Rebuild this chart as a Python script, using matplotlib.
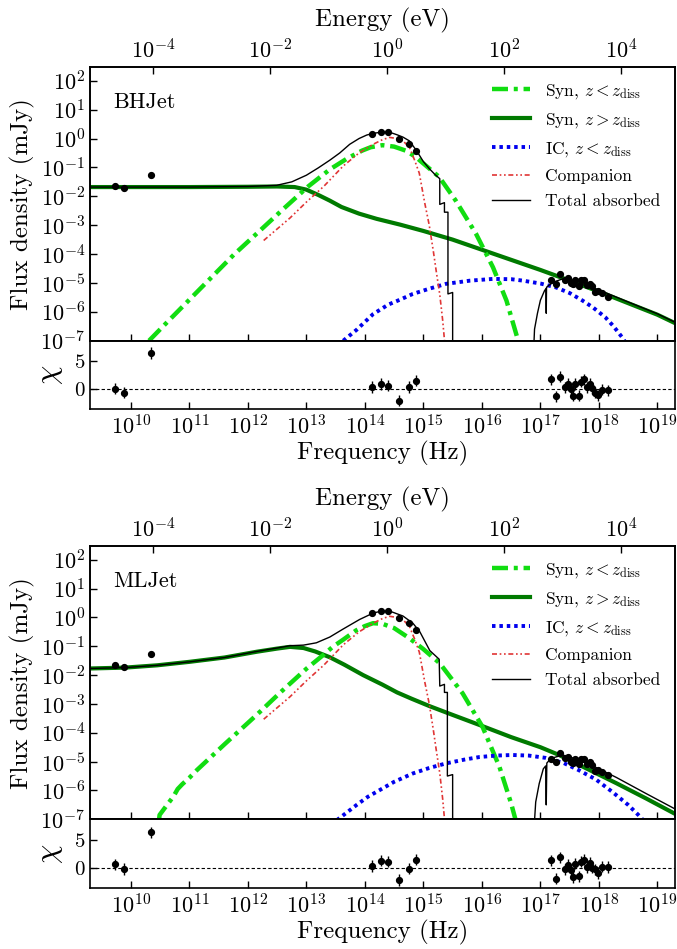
import numpy as np
import matplotlib
matplotlib.use('Agg')
import matplotlib.pyplot as plt
from matplotlib.ticker import NullLocator, FixedLocator

plt.rcParams.update({
    'font.family': 'serif', 'font.serif': ['cmr10'], 'mathtext.fontset': 'cm',
    'axes.formatter.use_mathtext': True, 'axes.unicode_minus': False,
    'xtick.direction': 'in', 'ytick.direction': 'in',
    'axes.linewidth': 1.2,
})

H_EV = 4.135667696e-15  # Planck constant (eV s)

# ---------------- data (log10 frequency in Hz, log10 flux in mJy) ----------------
data_lognu = [9.73, 9.88, 10.35,
              14.13, 14.27, 14.40, 14.59, 14.76, 14.87,
              17.18, 17.27, 17.34, 17.42, 17.47, 17.53, 17.56, 17.59, 17.66,
              17.69, 17.75, 17.79, 17.85, 17.89, 17.94, 17.98, 18.06, 18.16]
data_logF = [-1.66, -1.71, -1.27,
             0.15, 0.23, 0.23, -0.01, -0.20, -0.42,
             -4.90, -5.03, -4.69, -4.89, -4.83, -5.01, -5.05, -4.90, -5.09,
             -4.90, -4.90, -5.07, -5.03, -5.10, -5.33, -5.29, -5.36, -5.48]
data_ferr_frac = [0.05, 0.15, 0.05] + [0.03] * 6 + [0.06] * 18

resid_bhjet = [0.0, -0.68, 6.41,
               0.34, 0.85, 0.58, -2.10, 0.34, 1.43,
               1.70, -1.36, 2.16, 0.29, 0.85, -0.10, -1.24, 0.85, -1.24,
               1.31, 1.70, 0.29, 0.92, 0.07, -0.68, -1.12, -0.17, -0.27]
resid_mljet = [0.63, -0.17, 6.30,
               0.34, 1.26, 1.09, -2.14, -0.10, 1.48,
               1.36, -1.92, 1.87, -0.22, 0.51, -0.44, -1.63, 0.75, -1.46,
               1.09, 1.48, 0.17, 0.92, 0.07, -0.22, -0.90, 0.24, 0.17]

# ---------------- companion star (same in both panels) ----------------
comp_lognu = [12.27, 12.72, 13.0, 13.3, 13.63, 13.9, 14.14, 14.3, 14.42, 14.55,
              14.65, 14.76, 14.85, 14.93, 15.02, 15.1, 15.17, 15.22, 15.28, 15.33, 15.37]
comp_logF = [-3.53, -2.75, -2.2, -1.65, -0.95, -0.5, -0.2, -0.04, 0.04, 0.0,
             -0.08, -0.3, -0.75, -1.2, -2.2, -3.0, -3.9, -4.6, -5.4, -6.3, -7.2]

# ---------------- BHJet model components ----------------
bh_synin_lognu = [10.31, 10.6, 11.0, 11.4, 11.76, 12.2, 12.6, 13.03, 13.4, 13.69, 13.95,
                  14.1, 14.3, 14.5, 14.7, 14.87, 15.05, 15.27, 15.55, 15.9, 16.19, 16.42, 16.62]
bh_synin_logF = [-7.0, -6.40, -5.58, -4.76, -4.02, -3.2, -2.45, -1.66, -1.07, -0.70, -0.42,
                 -0.30, -0.23, -0.28, -0.42, -0.64, -0.95, -1.33, -2.14, -3.30, -4.46, -5.61, -7.0]

bh_synout_lognu = [9.3, 10, 11, 12, 12.5, 12.8, 13.0, 13.2, 13.4, 13.6, 13.9, 14.2, 14.6,
                   15.0, 15.5, 16.0, 16.5, 17.0, 17.5, 18.0, 18.5, 19.0, 19.31]
bh_synout_logF = [-1.68, -1.68, -1.68, -1.67, -1.66, -1.68, -1.77, -1.95, -2.15, -2.37, -2.6,
                  -2.78, -2.98, -3.2, -3.5, -3.85, -4.2, -4.55, -4.92, -5.3, -5.7, -6.1, -6.4]

bh_ic_lognu = [13.63, 13.86, 14.14, 14.4, 14.6, 14.82, 15.1, 15.39, 15.8, 16.19, 16.5, 16.7,
               17.0, 17.26, 17.5, 17.72, 17.9, 18.11, 18.25, 18.4, 18.45]
bh_ic_logF = [-7.0, -6.62, -6.08, -5.75, -5.58, -5.38, -5.2, -5.03, -4.92, -4.86, -4.87, -4.92,
              -5.02, -5.15, -5.35, -5.61, -5.85, -6.19, -6.5, -6.89, -7.05]

bh_tot_opt_lognu = [9.3, 11, 12, 12.49, 12.75, 13.0, 13.2, 13.4, 13.57, 13.74, 13.9, 14.03, 14.14,
                    14.25, 14.42, 14.55, 14.65, 14.76, 14.88, 15.0, 15.1, 15.2, 15.28, 15.28,
                    15.36, 15.36, 15.42, 15.42, 15.5, 15.5]
bh_tot_opt_logF = [-1.68, -1.68, -1.66, -1.62, -1.5, -1.27, -1.02, -0.75, -0.5, -0.2, 0.0, 0.12,
                   0.18, 0.21, 0.22, 0.13, 0.05, -0.08, -0.41, -0.8, -1.04, -1.25, -1.39, -2.28,
                   -2.22, -2.55, -2.55, -5.38, -5.33, -8.0]
bh_tot_x_lognu = [16.87, 16.9, 16.95, 17.0, 17.07, 17.095, 17.10, 17.105, 17.21, 17.38, 17.6,
                  18.0, 18.5, 19.0, 19.31]
bh_tot_x_logF = [-8.0, -6.6, -6.05, -5.6, -5.27, -5.2, -6.05, -5.15, -4.98, -4.86, -4.98,
                 -5.24, -5.66, -6.07, -6.37]

# ---------------- MLJet model components ----------------
ml_synin_lognu = [10.48, 10.49, 10.6, 10.73, 10.8, 10.88, 11.0, 11.13, 11.6, 12.15, 12.55, 13.0,
                  13.29, 13.45, 13.63, 13.85, 14.0, 14.14, 14.3, 14.5, 14.76, 15.0, 15.28,
                  15.67, 16.01, 16.3, 16.5, 16.58]
ml_synin_logF = [-7.05, -6.85, -6.55, -6.2, -5.95, -5.78, -5.56, -5.29, -4.4, -3.38, -2.61, -1.78,
                 -1.3, -1.02, -0.77, -0.45, -0.3, -0.2, -0.22, -0.37, -0.72, -1.1, -1.59,
                 -2.63, -3.79, -5.18, -6.45, -7.05]

ml_synout_lognu = [9.3, 9.9, 10.45, 11.0, 11.6, 12.15, 12.5, 12.72, 12.95, 13.15, 13.4, 13.65,
                   13.97, 14.3, 14.55, 14.8, 15.11, 15.5, 15.96, 16.5, 17.0, 17.32, 17.8, 18.3,
                   18.8, 19.31]
ml_synout_logF = [-1.77, -1.74, -1.66, -1.54, -1.39, -1.19, -1.08, -1.02, -1.06, -1.18, -1.38,
                  -1.64, -2.0, -2.33, -2.6, -2.82, -3.08, -3.38, -3.73, -4.15, -4.5, -4.77,
                  -5.25, -5.75, -6.27, -6.82]

ml_ic_lognu = [13.52, 13.7, 13.86, 14.05, 14.25, 14.5, 14.82, 15.1, 15.39, 15.7, 15.96, 16.25,
               16.52, 16.8, 17.09, 17.4, 17.66, 17.95, 18.23, 18.5, 18.68, 18.78]
ml_ic_logF = [-7.03, -6.75, -6.5, -6.22, -5.99, -5.7, -5.41, -5.22, -5.06, -4.93, -4.84, -4.79,
              -4.77, -4.79, -4.87, -5.05, -5.30, -5.62, -6.05, -6.5, -6.86, -7.08]

ml_tot_opt_lognu = [9.3, 9.9, 10.45, 11.0, 11.6, 12.15, 12.5, 12.72, 12.95, 13.17, 13.4, 13.63,
                    13.91, 14.14, 14.28, 14.45, 14.65, 14.82, 14.94, 15.11, 15.27, 15.28, 15.36,
                    15.36, 15.41, 15.41, 15.5, 15.5]
ml_tot_opt_logF = [-1.77, -1.74, -1.66, -1.54, -1.39, -1.18, -1.06, -0.98, -0.96, -0.88, -0.68,
                   -0.4, -0.07, 0.15, 0.22, 0.2, 0.05, -0.2, -0.5, -1.15, -1.45, -2.38, -2.32,
                   -2.6, -2.6, -5.5, -5.45, -8.0]
ml_tot_x_lognu = [16.87, 16.92, 16.98, 17.05, 17.09, 17.10, 17.11, 17.18, 17.38, 17.6, 17.9,
                  18.3, 18.8, 19.31]
ml_tot_x_logF = [-8.0, -6.4, -5.76, -5.25, -5.15, -6.5, -5.05, -4.89, -4.77, -4.9, -5.15,
                 -5.55, -6.1, -6.65]

panels = [
    dict(name='BHJet', synin=(bh_synin_lognu, bh_synin_logF), synout=(bh_synout_lognu, bh_synout_logF),
         ic=(bh_ic_lognu, bh_ic_logF), tot=[(bh_tot_opt_lognu, bh_tot_opt_logF), (bh_tot_x_lognu, bh_tot_x_logF)],
         resid=resid_bhjet, top=67, bot=340.7, rbot=409),
    dict(name='MLJet', synin=(ml_synin_lognu, ml_synin_logF), synout=(ml_synout_lognu, ml_synout_logF),
         ic=(ml_ic_lognu, ml_ic_logF), tot=[(ml_tot_opt_lognu, ml_tot_opt_logF), (ml_tot_x_lognu, ml_tot_x_logF)],
         resid=resid_mljet, top=546, bot=819.3, rbot=888.3),
]

W, H = 677, 949
fig = plt.figure(figsize=(W / 100, H / 100), dpi=100)
L, R = 90, 675
XLIM = (2e9, 2e19)

def p(xy):
    return 10 ** np.asarray(xy[0], float), 10 ** np.asarray(xy[1], float)

nu = 10 ** np.array(data_lognu)
F = 10 ** np.array(data_logF)
Ferr = F * np.array(data_ferr_frac)

for pn in panels:
    ax = fig.add_axes([L / W, 1 - pn['bot'] / H, (R - L) / W, (pn['bot'] - pn['top']) / H])
    axr = fig.add_axes([L / W, 1 - pn['rbot'] / H, (R - L) / W, (pn['rbot'] - pn['bot']) / H], sharex=ax)

    ax.plot(*p(pn['synin']), color='#11dd11', lw=3.2, ls=(0, (3.6, 1.3, 0.9, 1.3)),
            dash_capstyle='butt', label=r'Syn, $z<z_{\rm diss}$', zorder=3)
    ax.plot(*p(pn['synout']), color='#007a00', lw=3.0, label=r'Syn, $z>z_{\rm diss}$', zorder=2)
    ax.plot(*p(pn['ic']), color='#0000ee', lw=2.8, ls=(0, (0.9, 1.0)),
            label=r'IC, $z<z_{\rm diss}$', zorder=3)
    ax.plot(*p((comp_lognu, comp_logF)), color='#e03535', lw=1.2,
            ls=(0, (3, 1.6, 1, 1.6, 1, 1.6)), label='Companion', zorder=3)
    for i, seg in enumerate(pn['tot']):
        ax.plot(*p(seg), color='k', lw=1.0, label='Total absorbed' if i == 0 else None, zorder=4)
    ax.errorbar(nu, F, yerr=Ferr, fmt='o', color='k', ms=4.2, elinewidth=1.0, capsize=0, zorder=5)

    ax.set_xscale('log')
    ax.set_yscale('log')
    ax.set_xlim(*XLIM)
    ax.set_ylim(1e-7, 3e2)
    ax.yaxis.set_major_locator(FixedLocator([10.0 ** k for k in range(-7, 3)]))
    ax.yaxis.set_minor_locator(NullLocator())
    ax.xaxis.set_major_locator(FixedLocator([10.0 ** k for k in range(10, 20)]))
    ax.xaxis.set_minor_locator(NullLocator())
    ax.tick_params(axis='both', labelsize=16, length=5, width=1, top=False, right=False)
    ax.tick_params(axis='x', labelbottom=False)
    ax.set_ylabel('Flux density (mJy)', fontsize=18, labelpad=4)
    ax.text(0.04, 0.87, pn['name'], transform=ax.transAxes, fontsize=16, va='center')
    ax.legend(loc='upper right', frameon=False, fontsize=12.5, handlelength=2.2,
              labelspacing=0.58, borderaxespad=0.45, handletextpad=0.85, borderpad=0.4)

    top = ax.twiny()
    top.set_xscale('log')
    top.set_xlim(XLIM[0] * H_EV, XLIM[1] * H_EV)
    top.xaxis.set_major_locator(FixedLocator([1e-4, 1e-2, 1e0, 1e2, 1e4]))
    top.xaxis.set_minor_locator(NullLocator())
    top.tick_params(axis='x', labelsize=16, length=5, width=1, direction='in')
    top.set_xlabel('Energy (eV)', fontsize=18, labelpad=8)

    axr.errorbar(nu, pn['resid'], yerr=1.0, fmt='o', color='k', ms=4.2, elinewidth=1.0, capsize=0, zorder=5)
    axr.axhline(0, color='k', ls='--', lw=0.8, dashes=(3, 2))
    axr.set_ylim(-3.6, 8.6)
    axr.set_xlim(*XLIM)
    axr.yaxis.set_major_locator(FixedLocator([0, 5]))
    axr.tick_params(axis='both', labelsize=16, length=5, width=1, top=False, right=False)
    axr.tick_params(axis='y', labelsize=15)
    axr.set_ylabel(r'$\chi$', fontsize=22, labelpad=6)
    axr.set_xlabel('Frequency (Hz)', fontsize=18, labelpad=2)

fig.savefig('out.png', dpi=100)
